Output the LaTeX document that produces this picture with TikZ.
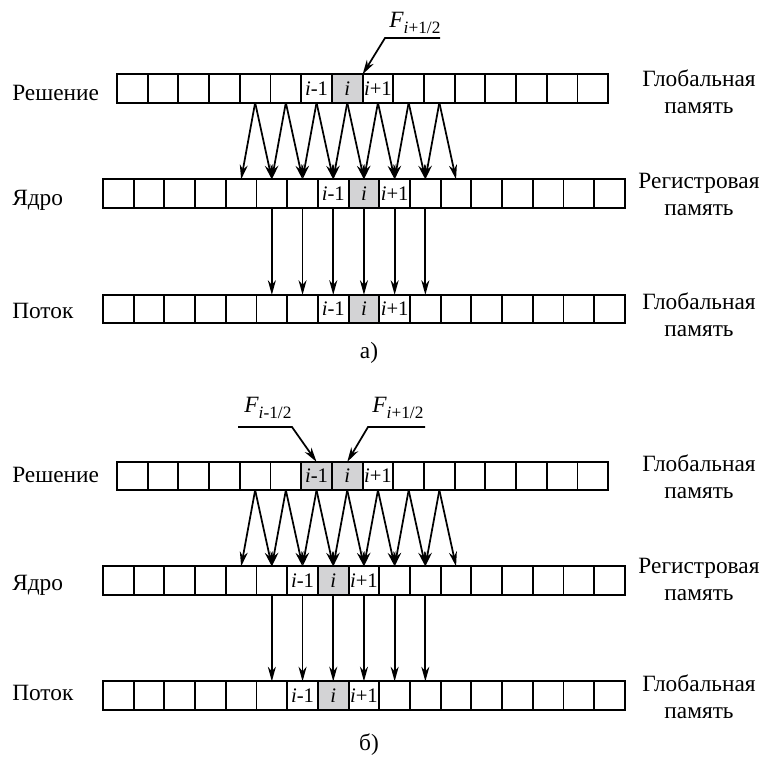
\documentclass[tikz,border=0pt]{standalone}
\usepackage{fontspec}
\setmainfont{Liberation Serif}
\newfontfamily\myserif{Liberation Serif}
\usetikzlibrary{arrows.meta}
\definecolor{cellgray}{RGB}{211,211,213}
% #1 prefix, #2 left x, #3 centre y, #4 last index, #5 #6 grey cells
\newcommand\myCellRow[6]{%
  \foreach \k in {0,...,#4}{%
    \def\myfill{white}%
    \ifnum\k=#5 \def\myfill{cellgray}\fi
    \ifnum\k=#6 \def\myfill{cellgray}\fi
    \node[cell,fill=\myfill] (#1-\k) at ({#2+30.7*(\k+0.5)},#3) {};
  }%
}
\begin{document}
\begin{tikzpicture}[x=0.75pt,y=-0.75pt,
  cell/.style={draw,line width=1.4pt,inner sep=0pt,outer sep=0pt,
    minimum width=23.03pt,minimum height=21.2pt},
  arr/.style={line width=1.3pt,-{Stealth[length=11pt,width=6pt,inset=3.5pt]}},
  lab/.style={font=\myserif\fontsize{17.5}{20}\selectfont,inner sep=0pt},
  rlab/.style={lab,align=center,anchor=base},
  llab/.style={lab,anchor=base west},
  clab/.style={font=\myserif\fontsize{15.5}{15.5}\selectfont,inner sep=0pt},
  flab/.style={font=\myserif\fontsize{17.5}{18}\selectfont,inner sep=0pt,anchor=base west}]
\useasboundingbox (0,0) rectangle (774,758);

% ---------------- part a ----------------
\myCellRow{a1}{117}{88.5}{15}{7}{-1}
\myCellRow{a2}{103}{193.5}{16}{8}{-1}
\myCellRow{a3}{103}{309}{16}{8}{-1}

\node[clab] (a1t6) at (a1-6) {\textit{i}-1};
\node[clab] (a1t7) at (a1-7) {\textit{i}};
\node[clab] (a1t8) at (a1-8) {\textit{i}+1};
\node[clab] (a2t7) at (a2-7) {\textit{i}-1};
\node[clab] (a2t8) at (a2-8) {\textit{i}};
\node[clab] (a2t9) at (a2-9) {\textit{i}+1};
\node[clab] (a3t7) at (a3-7) {\textit{i}-1};
\node[clab] (a3t8) at (a3-8) {\textit{i}};
\node[clab] (a3t9) at (a3-9) {\textit{i}+1};

\foreach \k in {4,...,10}{%
  \pgfmathtruncatemacro\kk{\k+1}%
  \draw[arr] (a1-\k.south) -- (a2-\k.north);
  \draw[arr] (a1-\k.south) -- (a2-\kk.north);
}
\foreach \k in {5,...,10}{\draw[arr] (a2-\k.south) -- (a3-\k.north);}

\node[llab] (la1) at (12,100) {Решение};
\node[llab] (la2) at (12,205) {Ядро};
\node[llab] (la3) at (12,318) {Поток};
\node[rlab] (ra1) at (699,113) {Глобальная\\память};
\node[rlab] (ra2) at (699,215) {Регистровая\\память};
\node[rlab] (ra3) at (699,336) {Глобальная\\память};

\node[flab] (fa) at (389,27) {\textit{F}\raisebox{-4.5pt}{\fontsize{13}{13}\selectfont\textit{i}+1/2}};
\coordinate (fa1) at (440,38);
\coordinate (fa0) at (385,38);
\draw[arr] (fa1) -- (fa0) -- (a1-7.north east);

\node[lab] (capa) at (369,353) {а)};

% ---------------- part b ----------------
\myCellRow{b1}{117}{476}{15}{6}{7}
\myCellRow{b2}{103}{580.5}{16}{7}{-1}
\myCellRow{b3}{103}{695.5}{16}{7}{-1}

\node[clab] (b1t6) at (b1-6) {\textit{i}-1};
\node[clab] (b1t7) at (b1-7) {\textit{i}};
\node[clab] (b1t8) at (b1-8) {\textit{i}+1};
\node[clab] (b2t6) at (b2-6) {\textit{i}-1};
\node[clab] (b2t7) at (b2-7) {\textit{i}};
\node[clab] (b2t8) at (b2-8) {\textit{i}+1};
\node[clab] (b3t6) at (b3-6) {\textit{i}-1};
\node[clab] (b3t7) at (b3-7) {\textit{i}};
\node[clab] (b3t8) at (b3-8) {\textit{i}+1};

\foreach \k in {4,...,10}{%
  \pgfmathtruncatemacro\kk{\k+1}%
  \draw[arr] (b1-\k.south) -- (b2-\k.north);
  \draw[arr] (b1-\k.south) -- (b2-\kk.north);
}
\foreach \k in {5,...,10}{\draw[arr] (b2-\k.south) -- (b3-\k.north);}

\node[llab] (lb1) at (12,482) {Решение};
\node[llab] (lb2) at (12,590) {Ядро};
\node[llab] (lb3) at (12,700) {Поток};
\node[rlab] (rb1) at (699,498) {Глобальная\\память};
\node[rlab] (rb2) at (699,600) {Регистровая\\память};
\node[rlab] (rb3) at (699,718) {Глобальная\\память};

\node[flab] (fb1) at (244,412) {\textit{F}\raisebox{-4.5pt}{\fontsize{13}{13}\selectfont\textit{i}-1/2}};
\coordinate (fb1a) at (238,427);
\coordinate (fb1b) at (292,427);
\draw[arr] (fb1a) -- (fb1b) -- (b1-6.north);

\node[flab] (fb2) at (372,412) {\textit{F}\raisebox{-4.5pt}{\fontsize{13}{13}\selectfont\textit{i}+1/2}};
\coordinate (fb2a) at (425,427);
\coordinate (fb2b) at (368,427);
\draw[arr] (fb2a) -- (fb2b) -- (b1-7.north);

\node[lab] (capb) at (369,745) {б)};
\end{tikzpicture}
\end{document}
